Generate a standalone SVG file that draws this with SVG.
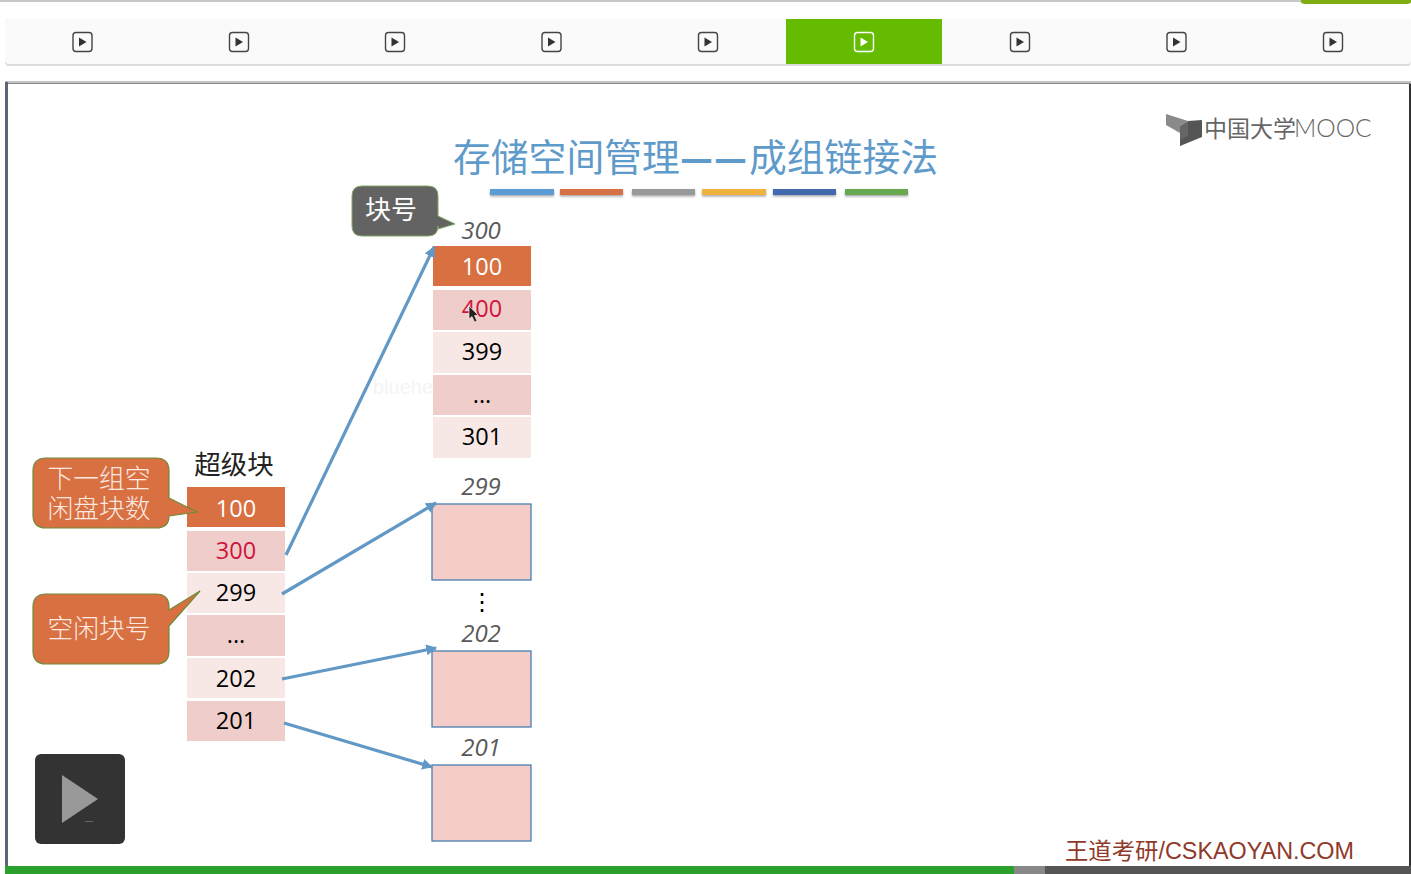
<svg xmlns="http://www.w3.org/2000/svg" width="1411" height="874" viewBox="0 0 1411 874">
<defs>
<style>
text{font-family:"Liberation Sans","Noto Sans CJK SC",sans-serif}
.c{font-family:"Noto Sans CJK SC",sans-serif;font-weight:400}
.n{font-family:"Open Sans","Noto Sans",sans-serif;font-size:23.500px;text-anchor:middle}
.b{fill:#000}.w{fill:#fff}.r{fill:#d0143c}
.i{font-family:"Open Sans","Noto Sans",sans-serif;font-size:24px;font-style:italic;fill:#595959;text-anchor:middle}
.o{fill:#d87042}.d{fill:#efcdca}.l{fill:#f7e8e6}
.bx{fill:#f4cdc8;stroke:#4a7fb0;stroke-width:1.3}
.ln{fill:none;stroke:#6198c6;stroke-width:3.2}
.ic{fill:none;stroke:#444;stroke-width:1.4}
.tri{fill:#333}
.call{fill:#d87042;stroke:#6f8a3a;stroke-width:1.2}
.ct{font-family:"Liberation Sans","Noto Sans CJK SC",sans-serif;font-weight:300;font-size:25.800px;fill:#fbe9e0;text-anchor:middle}
</style>
<marker id="ah" viewBox="0 0 10 10" refX="9" refY="5" markerWidth="3.4" markerHeight="3.4" orient="auto"><path d="M0 0L10 5L0 10z" fill="#6198c6"/></marker>
<filter id="sh" x="-5%" y="-50%" width="110%" height="220%"><feDropShadow dx="0" dy="1.5" stdDeviation="1" flood-color="#000" flood-opacity=".35"/></filter>
<g id="pi"><rect x="-9.500" y="-9.500" width="19" height="19" rx="3" class="ic"/><path d="M-3.500 -4.500L4 0L-3.500 4.500z" class="tri"/></g>
</defs>
<rect width="1411" height="874" fill="#fff"/>
<rect width="1411" height="2" fill="#c8c8c8"/>
<path d="M1301 0H1411V2Q1411 4 1405 4H1307Q1301 4 1301 2z" fill="#7fae14"/>
<g id="tabs">
<rect x="5" y="19" width="1406" height="47" rx="4" fill="#dcdcdc"/>
<rect x="5" y="19" width="1406" height="45" rx="4" fill="#fafafa"/>
<rect x="786" y="19" width="156" height="45" fill="#64bb00"/>
<use href="#pi" x="82.500" y="42"/><use href="#pi" x="239" y="42"/><use href="#pi" x="395" y="42"/><use href="#pi" x="551.500" y="42"/><use href="#pi" x="708" y="42"/>
<g transform="translate(864 42)"><rect x="-9.500" y="-9.500" width="19" height="19" rx="3" fill="none" stroke="#fff" stroke-width="1.400"/><path d="M-3.500 -4.500L4 0L-3.500 4.500z" fill="#fff"/></g>
<use href="#pi" x="1020" y="42"/><use href="#pi" x="1176.500" y="42"/><use href="#pi" x="1333" y="42"/>
</g>
<g id="slide-frame">
<rect x="5" y="81" width="1406" height="2" fill="#c4c4c4"/>
<rect x="5" y="83" width="1406" height="1" fill="#8a8a8a"/>
<rect x="5" y="82" width="3" height="785" fill="#5d6478"/>
<rect x="1409" y="84" width="2" height="782" fill="#333"/>
</g>
<g id="title">
<text y="171" class="c" font-size="37.800" fill="#5f9bca"><tspan x="453">存储空间管理</tspan><tspan x="680" font-size="36" font-weight="900">—</tspan><tspan x="714" font-size="36" font-weight="900">—</tspan><tspan x="749">成组链接法</tspan></text>
<g filter="url(#sh)">
<rect x="490" y="189" width="64" height="6" fill="#5b9bd5"/><rect x="560" y="189" width="63" height="6" fill="#d66f45"/><rect x="632" y="189" width="63" height="6" fill="#999"/><rect x="702" y="189" width="64" height="6" fill="#eeb23d"/><rect x="773" y="189" width="63" height="6" fill="#4469ae"/><rect x="845" y="189" width="63" height="6" fill="#6aa84f"/>
</g>
</g>
<g id="logo">
<path d="M1166 114L1188 121L1180 126V133L1166 125z" fill="#8a8a8a"/><path d="M1180 126L1188 121V140L1180 146z" fill="#666"/><path d="M1188 121L1202 120V137L1180 146V140L1188 136z" fill="#555"/>
<text y="137" font-size="23" fill="#666"><tspan x="1204" class="c" font-weight="300">中国大学</tspan><tspan x="1294" font-family="Lato,sans-serif" font-weight="300" font-size="24.500">MOOC</tspan></text>
</g>
<text x="373" y="394" font-size="20" fill="#f4f4f4">bluehe</text>
<g id="callout-block-no">
<path d="M362 186H428Q438 186 438 196V216L455 224L438 229V226Q438 236 428 236H362Q352 236 352 226V196Q352 186 362 186z" fill="#636363" stroke="#7fa860" stroke-width="1"/>
<text x="391" y="219" class="c" font-weight="300" font-size="26" fill="#fff" text-anchor="middle">块号</text>
</g>
<g id="superblock">
<text x="234" y="474" class="c" font-size="26.500" fill="#222" text-anchor="middle" font-weight="300">超级块</text>
<rect x="187" y="487" width="98" height="40" class="o"/><text x="236" y="517" class="n w">100</text>
<rect x="187" y="531" width="98" height="40" class="d"/><text x="236" y="559" class="n r">300</text>
<rect x="187" y="573" width="98" height="40" class="l"/><text x="236" y="601" class="n b">299</text>
<rect x="187" y="615" width="98" height="41" class="d"/><text x="236" y="643" class="n b">...</text>
<rect x="187" y="658" width="98" height="40" class="l"/><text x="236" y="687" class="n b">202</text>
<rect x="187" y="701" width="98" height="40" class="d"/><text x="236" y="729" class="n b">201</text>
</g>
<g id="callout-next">
<path d="M46 458H156Q169 458 169 471V498L197 512L169 516Q169 528 156 528H46Q33 528 33 515V471Q33 458 46 458z" class="call"/>
<text class="ct"><tspan x="99" y="488">下一组空</tspan><tspan x="99" y="518">闲盘块数</tspan></text>
</g>
<g id="callout-free">
<path d="M46 594H156Q169 594 169 607V610L200 591L169 626V651Q169 664 156 664H46Q33 664 33 651V607Q33 594 46 594z" class="call"/>
<text x="99" y="638" class="ct">空闲块号</text>
</g>
<g id="block-300">
<text x="481" y="239" class="i">300</text>
<rect x="433" y="246" width="98" height="40" class="o"/><text x="482" y="275" class="n w">100</text>
<rect x="433" y="290" width="98" height="40" class="d"/><text x="482" y="317" class="n r">400</text>
<rect x="433" y="332" width="98" height="41" class="l"/><text x="482" y="360" class="n b">399</text>
<rect x="433" y="375" width="98" height="40" class="d"/><text x="482" y="403" class="n b">...</text>
<rect x="433" y="417" width="98" height="41" class="l"/><text x="482" y="445" class="n b">301</text>
<path d="M469 306L469 319L472 316.500L474.500 322L477 321L474.500 315.500L478 315z" fill="#222" stroke="#fff" stroke-width=".6"/>
</g>
<g id="block-299"><text x="481" y="495" class="i">299</text><rect x="432" y="504" width="99" height="76" class="bx"/></g>
<text x="482" y="610" class="n b" font-size="20">⋮</text>
<g id="block-202"><text x="481" y="642" class="i">202</text><rect x="432" y="651" width="99" height="76" class="bx"/></g>
<g id="block-201"><text x="481" y="756" class="i">201</text><rect x="432" y="765" width="99" height="76" class="bx"/></g>
<g id="connectors">
<line x1="286" y1="555" x2="434" y2="247" class="ln" marker-end="url(#ah)"/>
<line x1="282" y1="594" x2="436" y2="503" class="ln" marker-end="url(#ah)"/>
<line x1="282" y1="679" x2="436" y2="648" class="ln" marker-end="url(#ah)"/>
<line x1="284" y1="723" x2="432" y2="767" class="ln" marker-end="url(#ah)"/>
</g>
<g id="play"><rect x="35" y="754" width="90" height="90" rx="6" fill="#333"/><path d="M62 775L98 799L62 823z" fill="#999"/><rect x="85" y="821" width="8" height="1" fill="#666"/></g>
<text x="1065" y="859" font-size="23" fill="#8f3a2a" textLength="289" lengthAdjust="spacingAndGlyphs">王道考研/CSKAOYAN.COM</text>
<g id="progress">
<rect x="1045" y="866" width="366" height="8" fill="#555"/>
<rect x="1014" y="866" width="31" height="8" fill="#888"/>
<rect x="5" y="866" width="1009" height="8" fill="#2ca02c"/>
</g>
</svg>
